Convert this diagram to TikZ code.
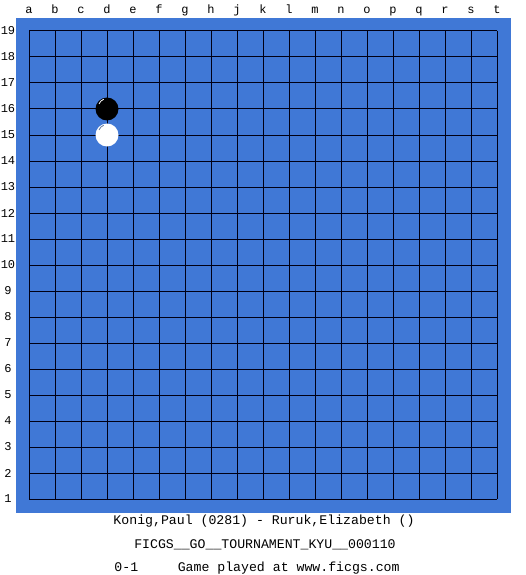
\documentclass[tikz,border=0pt]{standalone}
\usepackage{fontspec}
\setmonofont{Liberation Mono}
\definecolor{boardblue}{RGB}{64,120,214}
\definecolor{gridline}{RGB}{0,0,20}
\begin{document}
\begin{tikzpicture}[x=1pt,y=-1pt,
  lbl/.style={font=\ttfamily\fontsize{12}{12}\selectfont, inner sep=0pt},
  info/.style={font=\ttfamily\fontsize{13.2}{13.2}\selectfont, inner sep=0pt},
  gline/.style={gridline, line width=1pt}]
\useasboundingbox (0,0) rectangle (525,575);
\fill[white] (0,0) rectangle (525,575);
\fill[boardblue] (16,18) rectangle (511,513);
% grid
\foreach \i in {0,...,18} {
  \draw[gline] (29+26*\i,31) -- (29+26*\i,499);
  \draw[gline] (29,31+26*\i) -- (497,31+26*\i);
}
% column labels
\foreach \l [count=\i from 0] in {a,b,c,d,e,f,g,h,j,k,l,m,n,o,p,q,r,s,t} {
  \node[lbl, anchor=base] (col\l) at (29+26*\i,14) {\l};
}
% row labels
\foreach \r [count=\i from 0] in {19,18,...,1} {
  \node[lbl] (row\r) at (8,31+26*\i) {\r};
}
% stones
\fill[black] (107,109) circle (11.5);
\draw[white, line width=0.8pt] (99,104) arc (200:250:8);
\fill[white] (107,135) circle (11.5);
\draw[gray!60!boardblue, line width=0.8pt] (99,130) arc (200:250:8);
% info text
\node[info] (t1) at (264,521) {Konig,Paul (0281) - Ruruk,Elizabeth ()};
\node[info] (t2) at (265,545) {FICGS\_\_GO\_\_TOURNAMENT\_KYU\_\_000110};
\node[info] (t3) at (257,568) {0-1\ \ \ \ \ Game played at www.ficgs.com};
\end{tikzpicture}
\end{document}
